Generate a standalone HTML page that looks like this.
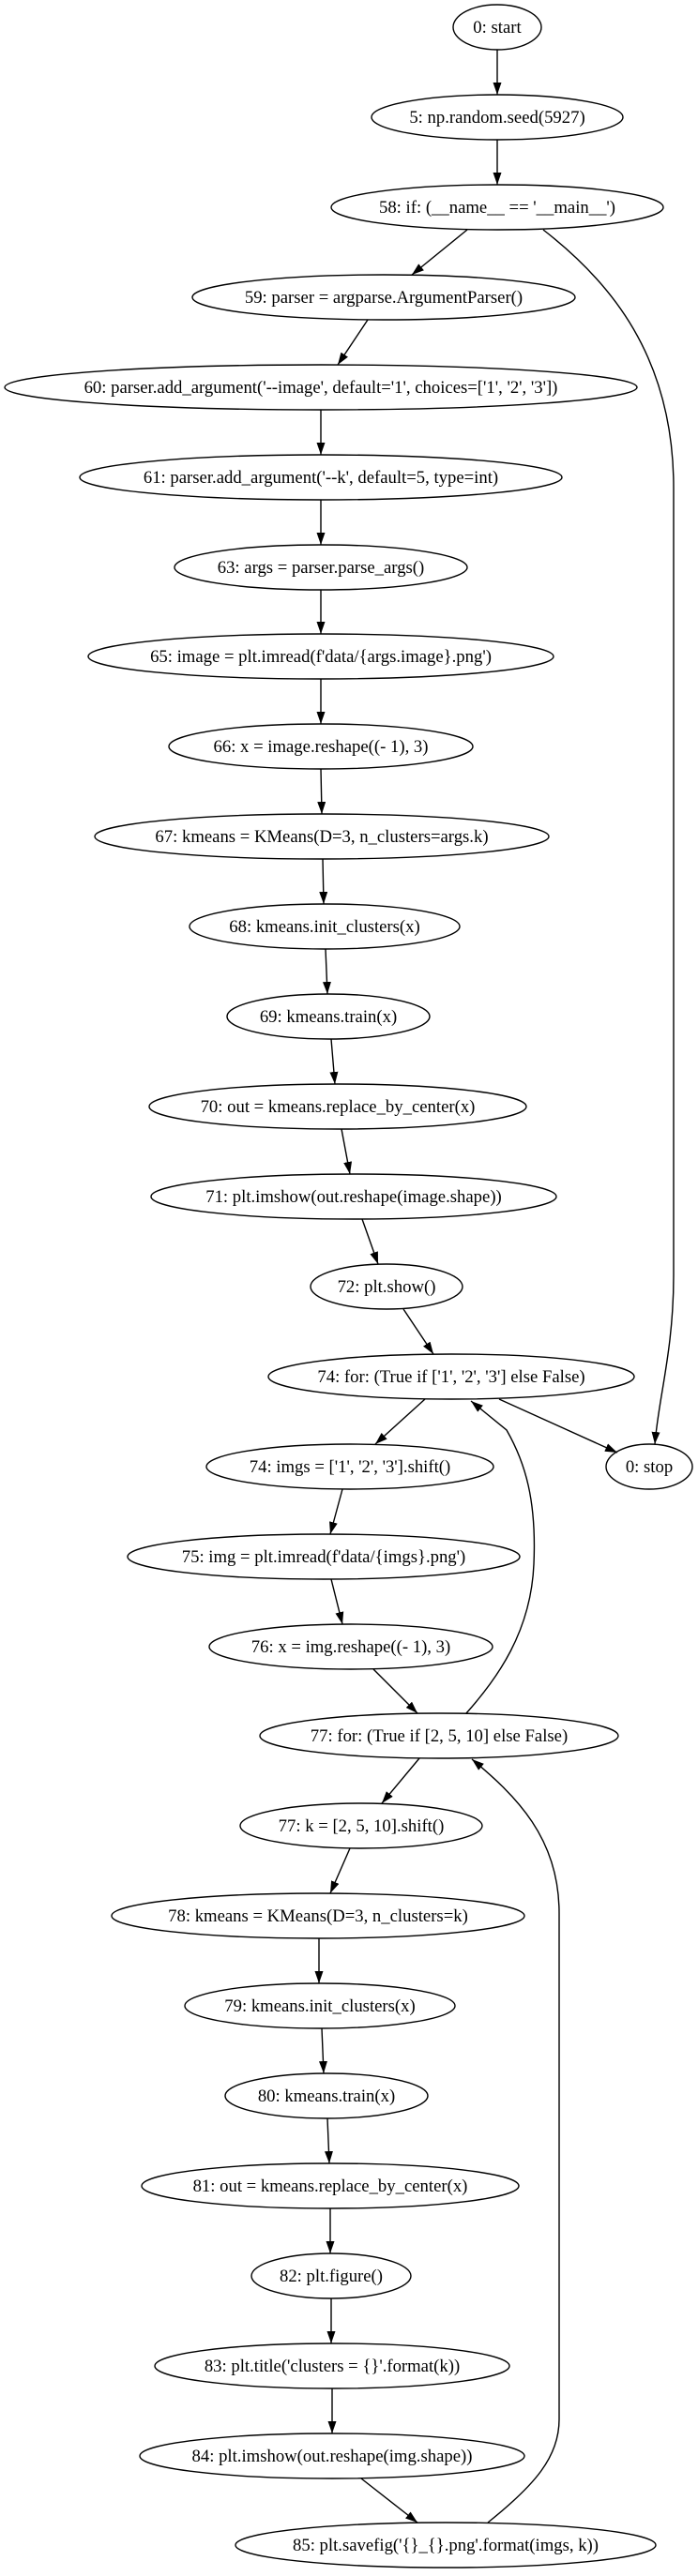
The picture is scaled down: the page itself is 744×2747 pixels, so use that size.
<!DOCTYPE html>
<html><head><meta charset="utf-8"><style>
html,body{margin:0;padding:0;background:#fff;}
svg{display:block;}
text{font-family:"Liberation Serif",serif;font-size:18.7px;text-anchor:middle;fill:#000;}
ellipse{fill:none;stroke:#000;stroke-width:1.4;}
.e{fill:none;stroke:#000;stroke-width:1.4;marker-end:url(#a);}
</style></head><body>
<svg width="744" height="2747" viewBox="0 0 744 2747" xmlns="http://www.w3.org/2000/svg">
<defs><marker id="a" markerUnits="userSpaceOnUse" viewBox="0 0 13 9" refX="13" refY="4.5" markerWidth="13" markerHeight="9" orient="auto"><path d="M0,0 L13,4.5 L0,9 z" fill="#000"/></marker></defs>

<ellipse cx="530" cy="29" rx="47" ry="24"/><text x="530" y="35">0: start</text>
<ellipse cx="530" cy="125" rx="134" ry="24"/><text x="530" y="131">5: np.random.seed(5927)</text>
<ellipse cx="530" cy="221" rx="177" ry="24"/><text x="530" y="227">58: if: (__name__ == '__main__')</text>
<ellipse cx="409" cy="317" rx="204" ry="24"/><text x="409" y="323">59: parser = argparse.ArgumentParser()</text>
<ellipse cx="342" cy="413" rx="337" ry="24"/><text x="342" y="419">60: parser.add_argument('--image', default='1', choices=['1', '2', '3'])</text>
<ellipse cx="342" cy="509" rx="257" ry="24"/><text x="342" y="515">61: parser.add_argument('--k', default=5, type=int)</text>
<ellipse cx="342" cy="605" rx="156" ry="24"/><text x="342" y="611">63: args = parser.parse_args()</text>
<ellipse cx="342" cy="700" rx="248" ry="24"/><text x="342" y="706">65: image = plt.imread(f'data/{args.image}.png')</text>
<ellipse cx="342" cy="796" rx="162" ry="24"/><text x="342" y="802">66: x = image.reshape((- 1), 3)</text>
<ellipse cx="343" cy="892" rx="242" ry="24"/><text x="343" y="898">67: kmeans = KMeans(D=3, n_clusters=args.k)</text>
<ellipse cx="346" cy="988" rx="144" ry="24"/><text x="346" y="994">68: kmeans.init_clusters(x)</text>
<ellipse cx="350" cy="1084" rx="108" ry="24"/><text x="350" y="1090">69: kmeans.train(x)</text>
<ellipse cx="360" cy="1180" rx="201" ry="24"/><text x="360" y="1186">70: out = kmeans.replace_by_center(x)</text>
<ellipse cx="377" cy="1276" rx="216" ry="24"/><text x="377" y="1282">71: plt.imshow(out.reshape(image.shape))</text>
<ellipse cx="412" cy="1372" rx="81" ry="24"/><text x="412" y="1378">72: plt.show()</text>
<ellipse cx="481" cy="1468" rx="195" ry="24"/><text x="481" y="1474">74: for: (True if ['1', '2', '3'] else False)</text>
<ellipse cx="692" cy="1564" rx="46" ry="24"/><text x="692" y="1570">0: stop</text>
<ellipse cx="373" cy="1564" rx="153" ry="24"/><text x="373" y="1570">74: imgs = ['1', '2', '3'].shift()</text>
<ellipse cx="345" cy="1660" rx="209" ry="24"/><text x="345" y="1666">75: img = plt.imread(f'data/{imgs}.png')</text>
<ellipse cx="374" cy="1756" rx="151" ry="24"/><text x="374" y="1762">76: x = img.reshape((- 1), 3)</text>
<ellipse cx="468" cy="1851" rx="191" ry="24"/><text x="468" y="1857">77: for: (True if [2, 5, 10] else False)</text>
<ellipse cx="385" cy="1947" rx="129" ry="24"/><text x="385" y="1953">77: k = [2, 5, 10].shift()</text>
<ellipse cx="339" cy="2043" rx="220" ry="24"/><text x="339" y="2049">78: kmeans = KMeans(D=3, n_clusters=k)</text>
<ellipse cx="341" cy="2139" rx="144" ry="24"/><text x="341" y="2145">79: kmeans.init_clusters(x)</text>
<ellipse cx="348" cy="2235" rx="108" ry="24"/><text x="348" y="2241">80: kmeans.train(x)</text>
<ellipse cx="352" cy="2331" rx="201" ry="24"/><text x="352" y="2337">81: out = kmeans.replace_by_center(x)</text>
<ellipse cx="353" cy="2427" rx="85" ry="24"/><text x="353" y="2433">82: plt.figure()</text>
<ellipse cx="354" cy="2523" rx="189" ry="24"/><text x="354" y="2529">83: plt.title('clusters = {}'.format(k))</text>
<ellipse cx="354" cy="2619" rx="205" ry="24"/><text x="354" y="2625">84: plt.imshow(out.reshape(img.shape))</text>
<ellipse cx="475" cy="2714" rx="224" ry="24"/><text x="475" y="2720">85: plt.savefig('{}_{}.png'.format(imgs, k))</text>

<path class="e" d="M530,53 L530,101"/>
<path class="e" d="M530,149 L530,197"/>
<path class="e" d="M498,245 L439,293"/>
<path class="e" d="M392,341 L360,389"/>
<path class="e" d="M342,437 L342,485"/>
<path class="e" d="M342,533 L342,581"/>
<path class="e" d="M342,629 L342,676"/>
<path class="e" d="M342,724 L342,772"/>
<path class="e" d="M342,820 L343,868"/>
<path class="e" d="M344,916 L345,964"/>
<path class="e" d="M347,1012 L349,1060"/>
<path class="e" d="M353,1108 L357,1156"/>
<path class="e" d="M364,1204 L373,1252"/>
<path class="e" d="M386,1300 L403,1348"/>
<path class="e" d="M430,1396 L462,1444"/>
<path class="e" d="M453,1492 L400,1540"/>
<path class="e" d="M532,1492 L658,1549"/>
<path class="e" d="M365,1588 L352,1636"/>
<path class="e" d="M353,1684 L365,1732"/>
<path class="e" d="M398,1780 L445,1827"/>
<path class="e" d="M447,1875 L407,1923"/>
<path class="e" d="M373,1971 L352,2019"/>
<path class="e" d="M340,2067 L340,2115"/>
<path class="e" d="M343,2163 L345,2211"/>
<path class="e" d="M349,2259 L351,2307"/>
<path class="e" d="M352,2355 L352,2403"/>
<path class="e" d="M353,2451 L353,2499"/>
<path class="e" d="M354,2547 L354,2595"/>
<path class="e" d="M385,2643 L445,2690"/>

<path class="e" d="M579,245 C650,300 718,380 718,520 L718,1360 C718,1440 702,1490 698,1540"/>
<path class="e" d="M497,1827 C530,1790 566,1740 569,1668 C572,1600 560,1560 540,1525 L502,1494"/>
<path class="e" d="M520,2690 C570,2650 596,2620 596,2580 L596,2040 C596,1960 550,1915 503,1876"/>
</svg>
</body></html>
